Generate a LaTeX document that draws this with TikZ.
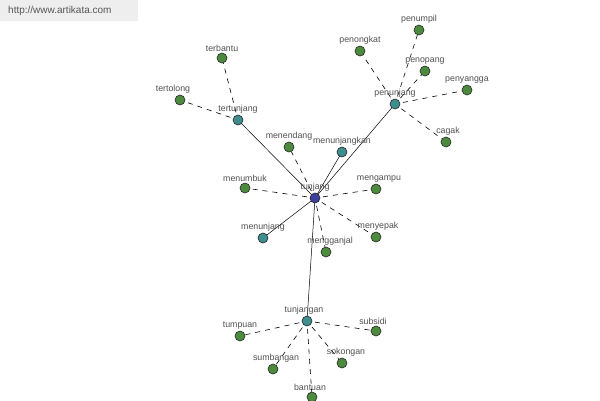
\documentclass[tikz,border=0pt]{standalone}
\usepackage{fontspec}
\setmainfont{Liberation Sans}
\usetikzlibrary{backgrounds}
\definecolor{leafc}{HTML}{4C8B3E}
\definecolor{midc}{HTML}{3E8E8E}
\definecolor{rootc}{HTML}{3B409C}
\definecolor{lblc}{HTML}{505050}
\definecolor{hdrbg}{HTML}{EEEEEE}
\definecolor{hdrtx}{HTML}{555555}
\tikzset{
  vtx/.style={circle,draw=black!85,line width=0.6pt,minimum size=10pt,inner sep=0pt},
  leaf/.style={vtx,fill=leafc},
  mid/.style={vtx,fill=midc},
  root/.style={vtx,fill=rootc},
  lbl/.style={font=\fontsize{8.8}{10}\selectfont,text=lblc,inner sep=0.5pt},
  every label/.style={lbl},
  solidedge/.style={line width=0.5pt,black},
  dashedge/.style={line width=0.6pt,black,dash pattern=on 5pt off 5pt,shorten <=8pt,shorten >=5pt},
}
\begin{document}
\begin{tikzpicture}[x=1pt,y=-1pt,label distance=0.5pt]
\useasboundingbox (0,0) rectangle (600,400);
\clip (0,0) rectangle (600,400);
\node[fill=hdrbg,minimum width=138pt,minimum height=21pt,inner sep=0pt,anchor=north west] (hdr) at (0,0) {};
\node[anchor=west,text=hdrtx,font=\fontsize{10}{12}\selectfont,inner sep=0pt] (url) at (8,11) {http://www.artikata.com};
% nodes
\node[root,label=above:tunjang] (tunjang) at (315,198) {};
\node[mid,label=above:tertunjang] (tertunjang) at (238,120) {};
\node[leaf,label=above:terbantu] (terbantu) at (222,58) {};
\node[leaf,label={[xshift=-7pt]above:tertolong}] (tertolong) at (180,100) {};
\node[mid,label=above:penunjang] (penunjang) at (395,104) {};
\node[leaf,label=above:penongkat] (penongkat) at (360,51) {};
\node[leaf,label=above:penumpil] (penumpil) at (419,30) {};
\node[leaf,label=above:penopang] (penopang) at (425,71) {};
\node[leaf,label=above:penyangga] (penyangga) at (467,90) {};
\node[leaf,label={[xshift=2pt]above:cagak}] (cagak) at (446,142) {};
\node[leaf,label=above:menendang] (menendang) at (289,147) {};
\node[mid,label=above:menunjangkan] (menunjangkan) at (342,152) {};
\node[leaf,label=above:menumbuk] (menumbuk) at (245,188) {};
\node[leaf,label={[xshift=3pt]above:mengampu}] (mengampu) at (376,189) {};
\node[mid,label=above:menunjang] (menunjang) at (263,238) {};
\node[leaf,label={[xshift=4pt]above:mengganjal}] (mengganjal) at (326,252) {};
\node[leaf,label={[xshift=2pt]above:menyepak}] (menyepak) at (376,237) {};
\node[mid,label={[xshift=-3pt]above:tunjangan}] (tunjangan) at (307,321) {};
\node[leaf,label=above:tumpuan] (tumpuan) at (240,336) {};
\node[leaf,label={[xshift=-3pt]above:subsidi}] (subsidi) at (376,331) {};
\node[leaf,label={[xshift=3pt]above:sumbangan}] (sumbangan) at (273,369) {};
\node[leaf,label={[xshift=4pt]above:sokongan}] (sokongan) at (342,363) {};
\node[leaf,label={[xshift=-2pt]above:bantuan}] (bantuan) at (312,397) {};
% edges
\begin{pgfonlayer}{background}
\fill[white] (0,0) rectangle (600,400);
\foreach \t in {tertunjang,penunjang,menunjangkan,menunjang,tunjangan}
  \draw[solidedge] (tunjang.center) -- (\t.center);
\foreach \t in {menendang,menumbuk,mengampu,mengganjal,menyepak}
  \draw[dashedge] (tunjang.center) -- (\t.center);
\foreach \t in {terbantu,tertolong}
  \draw[dashedge] (tertunjang.center) -- (\t.center);
\foreach \t in {penongkat,penumpil,penopang,penyangga,cagak}
  \draw[dashedge] (penunjang.center) -- (\t.center);
\foreach \t in {tumpuan,subsidi,sumbangan,sokongan,bantuan}
  \draw[dashedge] (tunjangan.center) -- (\t.center);
\end{pgfonlayer}
\end{tikzpicture}
\end{document}
